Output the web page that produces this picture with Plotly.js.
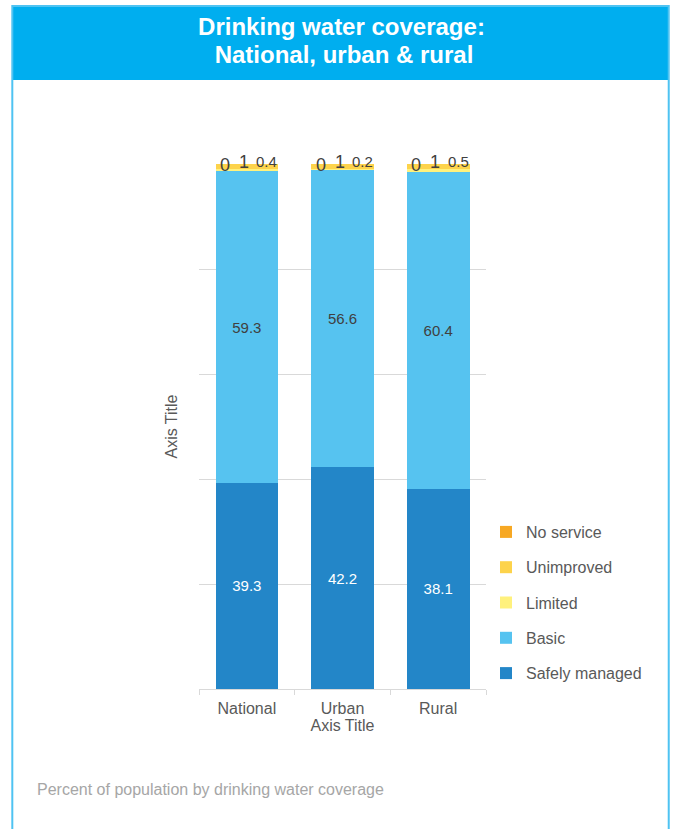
<!DOCTYPE html>
<html>
<head>
<meta charset="utf-8">
<script src="https://cdn.plot.ly/plotly-3.0.1.min.js"></script>
<style>
html,body{margin:0;padding:0;background:#fff;}
#chart{width:673px;height:829px;}
</style>
</head>
<body>
<div id="chart"></div>
<script>
// ---- data ----
const categories = ['National', 'Urban', 'Rural'];
const safelyManaged = [39.3, 42.2, 38.1];
const basic = [59.3, 56.6, 60.4];
const limited = [0.4, 0.2, 0.5];
const unimproved = [1, 1, 1];
const noService = [0, 0, 0];
const seriesNames = ['Safely managed', 'Basic', 'Limited', 'Unimproved', 'No service'];

// ---- layout geometry (pixels) ----
const W = 673, H = 829;
const L = 199, R = 488, T = 164, B = 689;
const px2x = px => (px - L) / (R - L);
const px2y = py => (B - py) / (B - T);

const FONT = 'Liberation Sans, Arial, sans-serif';
const colors = ['#2386C8', '#56C3F0', '#FFF17D', '#FDD34B', '#F7A823'];
const seriesData = [safelyManaged, basic, limited, unimproved, noService];

const traces = seriesData.map((vals, k) => {
  const t = {
    type: 'bar',
    name: seriesNames[k],
    x: categories,
    y: vals,
    marker: {color: colors[k], line: {width: 0}},
    legendgroup: 'g' + k,
    legendrank: 5 - k,
    hoverinfo: 'skip'
  };
  if (k < 2) {
    t.texttemplate = '%{y}';
    t.textposition = 'inside';
    t.insidetextanchor = 'middle';
    t.textangle = 0;
    t.constraintext = 'none';
    t.insidetextfont = {family: FONT, size: 15, color: k === 0 ? '#ffffff' : '#404040'};
  } else {
    t.textposition = 'none';
  }
  return t;
});

// small-segment labels as annotations anchored at stack top
const annotations = [];
const smallSeries = [
  {vals: noService, xs: -22, ys: -1, size: 18},
  {vals: unimproved, xs: -3, ys: 2, size: 18},
  {vals: limited, xs: 20, ys: 3, size: 15}
];
categories.forEach((c, i) => {
  const total = Math.round((safelyManaged[i] + basic[i] + limited[i] + unimproved[i] + noService[i]) * 1000) / 1000;
  smallSeries.forEach(s => {
    annotations.push({
      x: c, y: Math.min(total, 100), xref: 'x', yref: 'y',
      text: String(s.vals[i]), showarrow: false,
      xshift: s.xs, yshift: s.ys, yanchor: 'middle',
      font: {family: FONT, size: s.size, color: '#404040'}
    });
  });
});
annotations.push({
  xref: 'paper', yref: 'paper', x: px2x(341.5), y: px2y(54),
  xanchor: 'center', yanchor: 'middle', showarrow: false,
  text: '<b> National, urban & rural</b>',
  font: {family: FONT, size: 24, color: '#ffffff'}
});
annotations.push({
  xref: 'paper', yref: 'paper', x: px2x(34), y: px2y(789),
  xanchor: 'left', yanchor: 'middle', showarrow: false,
  text: 'Percent of population by drinking water coverage',
  font: {family: FONT, size: 16, color: '#A6A6A6'}
});

const shapes = [
  {type: 'rect', xref: 'paper', yref: 'paper', layer: 'below',
   x0: px2x(11), x1: px2x(672), y0: px2y(6), y1: px2y(80),
   fillcolor: '#00AEEF', line: {width: 0}},
  {type: 'rect', xref: 'paper', yref: 'paper', layer: 'below',
   x0: px2x(11), x1: px2x(672), y0: px2y(6), y1: px2y(840),
   fillcolor: 'rgba(0,0,0,0)', line: {color: '#4FC3F2', width: 2}}
];

const layout = {
  width: W, height: H,
  margin: {l: L, r: W - R, t: T, b: H - B, pad: 0},
  paper_bgcolor: '#ffffff', plot_bgcolor: '#ffffff',
  barmode: 'stack',
  bargap: 0.345,
  font: {family: FONT, color: '#595959'},
  title: {
    text: '<b>Drinking water coverage:</b>',
    font: {family: FONT, size: 24, color: '#ffffff'},
    xref: 'container', yref: 'container',
    x: 341.5 / W, xanchor: 'center',
    y: 1 - 27 / H, yanchor: 'middle'
  },
  xaxis: {
    type: 'category',
    showline: true, linecolor: '#D9D9D9', linewidth: 1,
    ticks: 'outside', tickson: 'boundaries', ticklen: 5, tickcolor: '#D9D9D9',
    ticklabelstandoff: 5,
    tickfont: {family: FONT, size: 16, color: '#595959'},
    showgrid: false,
    title: {text: 'Axis Title', font: {family: FONT, size: 16, color: '#595959'}, standoff: 1},
    fixedrange: true
  },
  yaxis: {
    range: [0, 100], dtick: 20,
    showticklabels: false, ticks: '',
    showgrid: true, gridcolor: '#D9D9D9', gridwidth: 1,
    zeroline: false, showline: false,
    title: {text: 'Axis Title', font: {family: FONT, size: 16, color: '#595959'}, standoff: 16},
    fixedrange: true
  },
  showlegend: true,
  legend: {
    traceorder: 'grouped',
    tracegroupgap: 11.5,
    xref: 'container', yref: 'container',
    x: 486 / W, xanchor: 'left',
    y: 1 - 515 / H, yanchor: 'top',
    font: {family: FONT, size: 16, color: '#595959'},
    bgcolor: 'rgba(0,0,0,0)'
  },
  annotations: annotations,
  shapes: shapes,
  hovermode: false
};

Plotly.newPlot('chart', traces, layout, {displayModeBar: false, staticPlot: true});
</script>
</body>
</html>
